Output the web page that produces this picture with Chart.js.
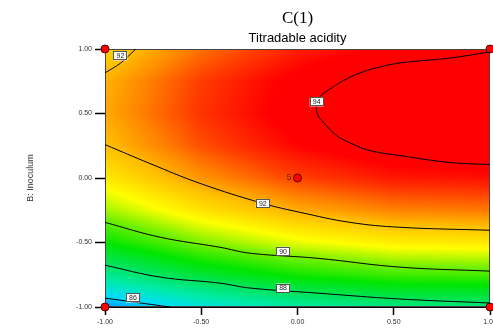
<!DOCTYPE html>
<html>
<head>
<meta charset="utf-8">
<script src="https://cdn.jsdelivr.net/npm/chart.js@4.4.1/dist/chart.umd.min.js"></script>
<style>
  html, body { margin: 0; padding: 0; background: #fff; overflow: hidden; }
  #wrap { width: 493px; height: 333px; overflow: hidden; }
</style>
</head>
<body>
<div id="wrap"><canvas id="contourChart" width="495" height="333"></canvas></div>
<script>
'use strict';

// response: rows are B (top to bottom), columns are A
var gridA = [-1, -0.5, 0, 0.5, 1];
var gridB = [1, 0.75, 0.5, 0.25, 0, -0.25, -0.5, -0.75, -1];
var gridValues = [
  [91.67, 92.75, 93.50, 93.91, 93.99],
  [92.12, 93.20, 93.95, 94.36, 94.44],
  [92.21, 93.29, 94.04, 94.45, 94.53],
  [91.95, 93.03, 93.78, 94.19, 94.27],
  [91.33, 92.41, 93.16, 93.57, 93.65],
  [90.35, 91.43, 92.18, 92.59, 92.67],
  [89.02, 90.10, 90.85, 91.26, 91.34],
  [87.33, 88.41, 89.16, 89.57, 89.65],
  [85.28, 86.36, 87.11, 87.52, 87.60]
];

// contour lines, points
var contour94A = [1, 0.79, 0.532, 0.429, 0.325, 0.236, 0.169, 0.117, 0.10, 0.101, 0.127, 0.205, 0.283, 0.377, 0.532, 0.792, 1];
var contour94B = [0.977, 0.93, 0.892, 0.861, 0.815, 0.753, 0.69, 0.63, 0.568, 0.506, 0.444, 0.328, 0.266, 0.212, 0.174, 0.12, 0.104];
var contour92TopA = [-1, -0.92, -0.84];
var contour92TopB = [0.815, 0.89, 1.0];
var contour92A = [-1, -0.766, -0.506, -0.179, 0.013, 0.273, 0.532, 1];
var contour92B = [0.259, 0.112, -0.042, -0.197, -0.266, -0.344, -0.382, -0.405];
var contour90A = [-1, -0.714, -0.403, -0.247, 0.101, 0.532, 1];
var contour90B = [-0.344, -0.459, -0.537, -0.583, -0.622, -0.691, -0.722];
var contour88A = [-1, -0.714, -0.403, -0.247, 0.101, 0.532, 1];
var contour88B = [-0.676, -0.768, -0.815, -0.853, -0.892, -0.938, -0.969];
var contour86A = [-1, -0.855, -0.662];
var contour86B = [-0.931, -0.961, -1.0];

// contour labels
var labelText = ['92', '94', '92', '90', '88', '86'];
var labelA = [-0.92, 0.10, -0.18, -0.075, -0.075, -0.855];
var labelB = [0.946, 0.59, -0.197, -0.568, -0.853, -0.93];

// design points
var designA = [-1, 1, -1, 1, 0];
var designB = [1, 1, -1, -1, 0];
var centerRuns = '5';

var tickVals = [-1, -0.5, 0, 0.5, 1];

// colour ramp
var rampVal = [85.3, 86, 87, 88, 89, 90, 91, 92, 92.6, 93.2, 93.8];
var rampCol = [
  [0, 150, 255], [0, 220, 250], [0, 235, 170], [0, 228, 90], [0, 230, 0],
  [110, 240, 0], [255, 255, 0], [255, 190, 0], [255, 130, 0], [255, 60, 0], [255, 0, 0]
];

function toPoints(xs, ys) {
  var pts = [];
  for (var i = 0; i < xs.length; i++) {
    pts.push({ x: xs[i], y: ys[i] });
  }
  return pts;
}

function colourFor(v) {
  if (v <= rampVal[0]) return rampCol[0];
  for (var i = 1; i < rampVal.length; i++) {
    if (v <= rampVal[i]) {
      var t = (v - rampVal[i - 1]) / (rampVal[i] - rampVal[i - 1]);
      var a = rampCol[i - 1], b = rampCol[i];
      return [a[0] + (b[0] - a[0]) * t, a[1] + (b[1] - a[1]) * t, a[2] + (b[2] - a[2]) * t];
    }
  }
  return rampCol[rampCol.length - 1];
}

// sample the grid at (a, b)
function valueAt(a, b) {
  var ci = (a - gridA[0]) / (gridA[1] - gridA[0]);
  var ri = (gridB[0] - b) / (gridB[0] - gridB[1]);
  ci = Math.max(0, Math.min(gridA.length - 1.0001, ci));
  ri = Math.max(0, Math.min(gridB.length - 1.0001, ri));
  var c0 = Math.floor(ci), r0 = Math.floor(ri);
  var fc = ci - c0, fr = ri - r0;
  var v00 = gridValues[r0][c0], v01 = gridValues[r0][c0 + 1];
  var v10 = gridValues[r0 + 1][c0], v11 = gridValues[r0 + 1][c0 + 1];
  return (v00 * (1 - fc) + v01 * fc) * (1 - fr) + (v10 * (1 - fc) + v11 * fc) * fr;
}

var heatPlugin = {
  id: 'heat',
  beforeDatasetsDraw: function (chart) {
    var area = chart.chartArea;
    var xs = chart.scales.x, ys = chart.scales.y;
    var w = Math.round(area.right - area.left), h = Math.round(area.bottom - area.top);
    var off = document.createElement('canvas');
    off.width = w; off.height = h;
    var octx = off.getContext('2d');
    var img = octx.createImageData(w, h);
    for (var py = 0; py < h; py++) {
      var b = ys.getValueForPixel(area.top + py + 0.5);
      for (var px = 0; px < w; px++) {
        var a = xs.getValueForPixel(area.left + px + 0.5);
        var c = colourFor(valueAt(a, b));
        var k = (py * w + px) * 4;
        img.data[k] = c[0]; img.data[k + 1] = c[1]; img.data[k + 2] = c[2]; img.data[k + 3] = 255;
      }
    }
    octx.putImageData(img, 0, 0);
    chart.ctx.drawImage(off, area.left, area.top);
    // frame
    chart.ctx.save();
    chart.ctx.strokeStyle = '#444';
    chart.ctx.lineWidth = 1;
    chart.ctx.strokeRect(area.left + 0.5, area.top + 0.5, w - 1, h - 1);
    chart.ctx.restore();
  },
  afterDatasetsDraw: function (chart) {
    var ctx = chart.ctx;
    var xs = chart.scales.x, ys = chart.scales.y;
    ctx.save();
    ctx.font = '7px "Liberation Sans", Arial';
    ctx.textAlign = 'center';
    ctx.textBaseline = 'middle';
    for (var i = 0; i < labelText.length; i++) {
      var cx = xs.getPixelForValue(labelA[i]);
      var cy = ys.getPixelForValue(labelB[i]);
      ctx.fillStyle = '#fff';
      ctx.fillRect(cx - 7, cy - 4.5, 14, 9);
      ctx.strokeStyle = '#555';
      ctx.lineWidth = 1;
      ctx.strokeRect(Math.round(cx - 7) + 0.5, Math.round(cy - 4.5) + 0.5, 13, 8);
      ctx.fillStyle = '#222';
      ctx.fillText(labelText[i], cx, cy + 0.5);
    }
    // replicate count at the centre point
    ctx.font = '9px "Liberation Sans", Arial';
    ctx.textAlign = 'right';
    ctx.fillStyle = '#6a2410';
    ctx.fillText(centerRuns, xs.getPixelForValue(0) - 6, ys.getPixelForValue(0));
    ctx.restore();
  }
};

function contourSet(xs, ys) {
  return {
    type: 'line',
    data: toPoints(xs, ys),
    borderColor: '#000',
    borderWidth: 1,
    pointRadius: 0,
    tension: 0.4,
    fill: false
  };
}

var ctx = document.getElementById('contourChart').getContext('2d');
var chart = new Chart(ctx, {
  type: 'scatter',
  data: {
    datasets: [
      contourSet(contour94A, contour94B),
      contourSet(contour92TopA, contour92TopB),
      contourSet(contour92A, contour92B),
      contourSet(contour90A, contour90B),
      contourSet(contour88A, contour88B),
      contourSet(contour86A, contour86B),
      {
        type: 'scatter',
        data: toPoints(designA, designB),
        backgroundColor: '#ff0000',
        borderColor: '#5a0000',
        borderWidth: 1,
        pointRadius: 4,
        clip: false
      }
    ]
  },
  options: {
    responsive: false,
    animation: false,
    layout: { padding: { left: 0, right: 0, top: 0, bottom: 0 } },
    plugins: {
      legend: { display: false },
      tooltip: { enabled: false },
      title: {
        display: true,
        text: 'C(1)',
        fullSize: false,
        color: '#000',
        font: { family: '"Liberation Serif", "Times New Roman", serif', size: 17, weight: 'normal' },
        padding: { top: 8, bottom: 2 }
      },
      subtitle: {
        display: true,
        text: 'Titradable acidity',
        fullSize: false,
        color: '#000',
        font: { family: '"Liberation Sans", Arial, sans-serif', size: 13, weight: 'normal' },
        padding: { top: 0, bottom: 3 }
      }
    },
    scales: {
      x: {
        type: 'linear',
        min: -1,
        max: 1,
        afterBuildTicks: function (scale) {
          scale.ticks = tickVals.map(function (v) { return { value: v }; });
        },
        afterFit: function (scale) {
          scale.height = 26;
          scale.paddingLeft = 0;
          scale.paddingRight = 0;
        },
        grid: { drawOnChartArea: false, drawTicks: true, tickLength: 8, color: '#000', tickWidth: 1.5 },
        border: { display: true, color: '#000', width: 1 },
        ticks: {
          padding: 3,
          maxRotation: 0,
          color: '#333',
          font: { family: '"Liberation Sans", Arial, sans-serif', size: 7 },
          callback: function (v) { return Number(v).toFixed(2); }
        }
      },
      y: {
        type: 'linear',
        min: -1,
        max: 1,
        afterBuildTicks: function (scale) {
          scale.ticks = tickVals.map(function (v) { return { value: v }; });
        },
        afterFit: function (scale) {
          scale.width = 105;
          scale.paddingTop = 0;
          scale.paddingBottom = 0;
        },
        grid: { drawOnChartArea: false, drawTicks: true, tickLength: 10, color: '#000', tickWidth: 1.5 },
        border: { display: true, color: '#000', width: 1 },
        title: {
          display: true,
          text: 'B: Inoculum',
          color: '#333',
          font: { family: '"Liberation Sans Narrow", "Liberation Sans", Arial, sans-serif', size: 9 },
          padding: { top: 25, bottom: 0 }
        },
        ticks: {
          padding: 3,
          color: '#333',
          font: { family: '"Liberation Sans", Arial, sans-serif', size: 7 },
          callback: function (v) { return Number(v).toFixed(2); }
        }
      }
    }
  },
  plugins: [heatPlugin]
});
</script>
</body>
</html>
